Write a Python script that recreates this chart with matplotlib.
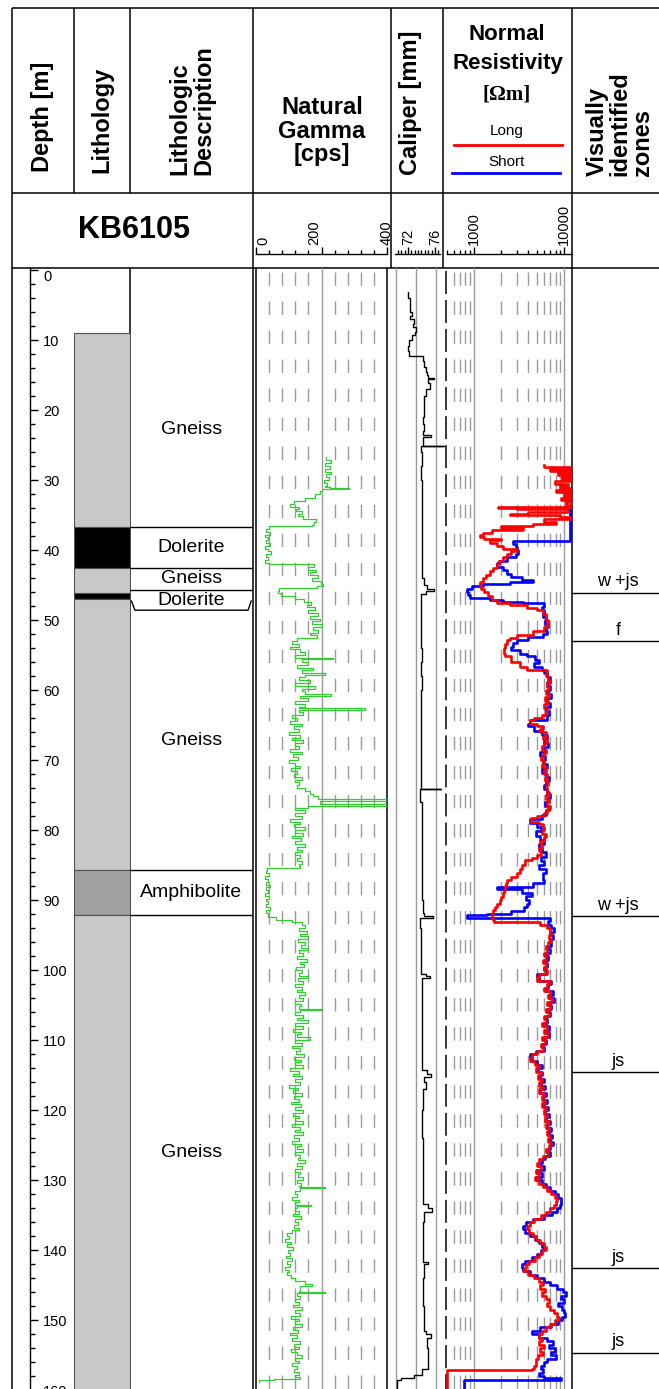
import numpy as np
import matplotlib.pyplot as plt
from matplotlib.ticker import MultipleLocator, FixedLocator, NullFormatter

plt.rcParams['font.family'] = ['Liberation Sans', 'DejaVu Sans']
plt.rcParams['lines.scale_dashes'] = False

# ---------------- data ----------------
well_name = "KB6105"

# lithology column (top, bottom in m)
litho_top = [9.0, 36.7, 42.5, 46.1, 47.0, 85.7, 92.1]
litho_bottom = [36.7, 42.5, 46.1, 47.0, 85.7, 92.1, 161.5]
litho_rock = ["Gneiss", "Dolerite", "Gneiss", "Dolerite", "Gneiss", "Amphibolite", "Gneiss"]
rock_color = {"Gneiss": "#c8c8c8", "Dolerite": "#000000", "Amphibolite": "#a0a0a0"}

# lithologic description boxes
desc_top = [9.0, 36.7, 42.5, 45.7, 48.6, 85.7, 92.1]
desc_bottom = [36.7, 42.5, 45.7, 48.6, 85.7, 92.1, 160.0]
desc_label = ["Gneiss", "Dolerite", "Gneiss", "Dolerite", "Gneiss", "Amphibolite", "Gneiss"]
desc_bracket = [False, False, False, True, False, False, False]

# visually identified zones (depth of the line under the label)
zone_depth = [46.1, 53.0, 92.3, 114.6, 142.6, 154.7]
zone_label = ["w +js", "f", "w +js", "js", "js", "js"]

depth_ticks = [0, 10, 20, 30, 40, 50, 60, 70, 80, 90, 100, 110, 120, 130, 140, 150, 160]
gamma_ticks = [0, 200, 400]
caliper_ticks = [72, 76]
res_ticks = [1000, 10000]

# natural gamma [cps]
gamma_depth = [26.7, 27.2, 27.6, 28.0, 28.4, 28.8, 29.2, 29.6, 30.0, 30.4, 30.8, 31.0, 31.2, 31.3,
               31.6, 32.0, 32.5, 33.0, 33.4, 33.8, 34.1, 34.4, 34.8, 35.2, 35.6, 36.0, 36.4, 36.6,
               37.0, 37.4, 37.8, 38.2, 38.6, 39.0, 39.4, 39.8, 40.2, 40.6, 41.0, 41.4, 41.8, 42.0,
               42.4, 42.8, 43.2, 43.6, 44.0, 44.4, 44.8, 45.2, 45.4, 45.8, 46.2, 46.6, 47.0, 47.4,
               47.8, 48.2, 48.6, 49.0, 49.4, 49.8, 50.2, 50.6, 51.0, 51.4, 51.8, 52.2, 52.6, 53.0,
               53.4, 53.8, 54.2, 54.6, 55.0, 55.4, 55.6, 56.0, 56.4, 56.8, 57.2, 57.6, 57.8, 58.2,
               58.6, 59.0, 59.4, 59.8, 60.2, 60.6, 60.8, 61.2, 61.6, 62.0, 62.4, 62.6, 62.8, 63.2,
               63.6, 64.0, 64.4, 64.8, 65.2, 65.6, 66.0, 66.4, 66.8, 67.2, 67.6, 68.0, 68.4, 68.8,
               69.2, 69.6, 70.0, 70.4, 70.8, 71.2, 71.6, 72.0, 72.4, 72.8, 73.2, 73.6, 74.0, 74.4,
               74.8, 75.2, 75.6, 75.8, 76.3, 76.5, 76.8, 77.2, 77.6, 78.0, 78.4, 78.8, 79.2, 79.6,
               80.0, 80.4, 80.8, 81.2, 81.6, 82.0, 82.4, 82.8, 83.2, 83.6, 84.0, 84.4, 84.8, 85.2,
               85.4, 85.8, 86.2, 86.6, 87.0, 87.4, 87.8, 88.2, 88.6, 89.0, 89.4, 89.8, 90.2, 90.6,
               91.0, 91.4, 91.8, 92.2, 92.4, 92.8, 93.2, 93.6, 94.0, 94.4, 94.8, 95.2, 95.6, 96.0,
               96.4, 96.8, 97.2, 97.6, 98.0, 98.4, 98.8, 99.2, 99.6, 100.0, 100.4, 100.8, 101.2,
               101.6, 102.0, 102.4, 102.8, 103.2, 103.6, 104.0, 104.4, 104.8, 105.2, 105.5, 105.7,
               106.0, 106.4, 106.8, 107.2, 107.6, 108.0, 108.4, 108.8, 109.2, 109.6, 110.0, 110.4,
               110.8, 111.2, 111.6, 112.0, 112.4, 112.8, 113.2, 113.6, 114.0, 114.4, 114.8, 115.2,
               115.6, 116.0, 116.4, 116.8, 117.2, 117.6, 118.0, 118.4, 118.8, 119.2, 119.6, 120.0,
               120.4, 120.8, 121.2, 121.6, 122.0, 122.4, 122.8, 123.2, 123.6, 124.0, 124.4, 124.8,
               125.2, 125.6, 126.0, 126.4, 126.8, 127.2, 127.6, 128.0, 128.4, 128.8, 129.2, 129.6,
               130.0, 130.4, 130.8, 131.0, 131.2, 131.6, 132.0, 132.4, 132.8, 133.2, 133.5, 133.7,
               134.0, 134.4, 134.8, 135.2, 135.6, 136.0, 136.4, 136.8, 137.2, 137.6, 138.0, 138.4,
               138.8, 139.2, 139.6, 140.0, 140.4, 140.8, 141.2, 141.6, 142.0, 142.4, 142.8, 143.2,
               143.6, 144.0, 144.4, 144.8, 145.2, 145.8, 146.0, 146.2, 146.6, 147.0, 147.4, 147.8,
               148.2, 148.6, 149.0, 149.4, 149.8, 150.2, 150.6, 151.0, 151.4, 151.8, 152.2, 152.6,
               153.0, 153.4, 153.8, 154.2, 154.6, 155.0, 155.4, 155.8, 156.2, 156.6, 157.0, 157.4,
               157.8, 158.2, 158.4, 158.6, 158.9]
gamma_cps = [215, 228, 210, 225, 212, 230, 214, 222, 208, 218, 212, 225, 285, 200,
             196, 180, 150, 115, 104, 130, 122, 140, 128, 145, 182, 176, 170, 40,
             32, 44, 28, 38, 30, 42, 27, 36, 45, 30, 38, 28, 40, 178,
             160, 182, 165, 190, 172, 198, 205, 185, 70, 66, 75, 120, 148, 168,
             155, 180, 160, 188, 165, 195, 170, 200, 175, 190, 165, 185, 125, 110,
             132, 105, 135, 150, 120, 235, 140, 160, 125, 175, 140, 210, 150, 130,
             165, 120, 180, 140, 150, 230, 135, 160, 120, 150, 130, 333, 130, 145,
             110, 125, 105, 140, 115, 130, 100, 135, 110, 145, 118, 130, 105, 140,
             112, 128, 100, 120, 135, 108, 125, 115, 140, 120, 132, 125, 150, 165,
             175, 190, 404, 195, 404, 160, 120, 150, 118, 140, 105, 135, 115, 150,
             120, 145, 110, 138, 120, 150, 125, 140, 118, 135, 125, 140, 130, 135,
             35, 30, 40, 28, 38, 30, 42, 32, 36, 28, 40, 30, 38, 32,
             42, 30, 36, 38, 60, 110, 140, 150, 130, 155, 135, 160, 128, 150,
             138, 158, 130, 145, 125, 155, 135, 148, 122, 140, 130, 160, 128,
             145, 118, 140, 125, 150, 130, 145, 120, 138, 130, 200, 135,
             118, 142, 125, 160, 120, 145, 112, 138, 125, 165, 118, 140,
             110, 135, 122, 148, 115, 138, 120, 145, 105, 130, 112, 140,
             118, 135, 100, 128, 112, 140, 115, 132, 108, 138, 120, 145,
             112, 130, 118, 142, 110, 135, 120, 145, 115, 130, 110, 138,
             125, 145, 118, 135, 128, 150, 125, 140, 120, 135, 128, 145,
             125, 138, 130, 210, 135, 118, 125, 110, 130, 120, 168, 125,
             118, 130, 112, 138, 120, 128, 115, 132, 110, 95, 100, 90,
             108, 95, 112, 98, 105, 92, 110, 96, 104, 90, 100, 95,
             108, 120, 150, 172, 135, 130, 210, 125, 135, 118, 130, 112,
             140, 120, 135, 108, 132, 118, 140, 112, 128, 105, 125, 110,
             135, 115, 130, 108, 125, 140, 118, 132, 110, 125, 115, 130,
             120, 135, 55, 10, 8]

# caliper [mm]
cal_depth = [3.2, 4.0, 5.2, 6.0, 6.5, 7.0, 7.7, 8.2, 8.8, 9.3, 10.0, 10.8, 11.5, 12.2, 12.3,
             13.0, 13.9, 14.5, 15.0, 15.4, 15.6, 16.2, 17.0, 18.0, 19.0, 20.0, 21.0, 22.0,
             23.0, 23.6, 23.8, 24.5, 25.1, 25.2, 26.0, 28.0, 30.0, 32.0, 34.0, 36.0, 38.0,
             40.0, 42.0, 44.0, 45.0, 45.5, 45.9, 46.3, 48.0, 50.0, 52.0, 54.0, 56.0, 58.0,
             60.0, 62.0, 64.0, 66.0, 68.0, 70.0, 72.0, 74.0, 74.1, 74.2, 76.0, 80.0, 84.0,
             88.0, 90.0, 91.8, 92.3, 92.5, 94.0, 96.0, 98.0, 100.5, 100.9, 101.2, 104.0,
             108.0, 112.0, 114.3, 114.9, 115.3, 116.0, 117.0, 120.0, 124.0, 128.0, 133.4,
             134.0, 134.5, 136.0, 140.0, 141.7, 142.0, 144.0, 148.0, 151.5, 152.0, 152.5,
             154.0, 156.5, 157.0, 157.8, 158.3, 158.6, 161.5]
cal_mm = [72.03, 72.30, 72.24, 72.58, 72.30, 72.85, 72.71, 73.12, 73.05, 72.58, 72.17, 72.03, 72.10,
          72.17, 74.22, 74.35, 74.63, 74.76, 75.04, 75.85, 74.90, 75.31, 74.63, 74.35, 74.42,
          74.35, 74.28, 74.35, 74.22, 75.45, 74.28, 74.22, 77.36, 73.94, 74.01, 73.94, 74.08,
          74.01, 74.08, 74.01, 74.15, 74.08, 74.15, 74.35, 74.76, 75.85, 74.63, 73.94, 73.87,
          73.94, 73.87, 74.01, 73.94, 74.01, 73.94, 73.87, 73.94, 73.87, 73.94, 73.87, 73.94,
          73.94, 76.95, 73.81, 74.08, 74.15, 74.08, 74.15, 74.22, 74.35, 75.72, 73.81, 73.87,
          73.94, 73.94, 74.63, 75.31, 74.08, 74.01, 74.08, 74.15, 74.76, 75.45, 74.35, 74.63,
          74.22, 74.15, 74.22, 74.22, 74.90, 75.58, 74.35, 74.28, 74.28, 74.90, 74.35, 74.28,
          74.35, 74.63, 75.45, 74.76, 75.04, 74.90, 74.08, 72.85, 70.94, 70.39, 70.12]

# normal resistivity, long spacing [Ohm m]
long_depth = [27.9, 28.1, 28.4, 28.7, 29.0, 29.3, 29.6, 29.9, 30.2, 30.5, 30.8, 31.1, 31.4, 31.7,
              32.0, 32.3, 32.6, 32.9, 33.2, 33.5, 33.8, 34.0, 34.2, 34.5, 34.8, 35.0, 35.3, 35.6,
              36.0, 36.3, 36.5, 36.8, 37.2, 37.6, 37.8, 38.1, 38.4, 38.6, 39.0, 39.4, 39.8, 40.1,
              40.5, 41.0, 41.5, 42.0, 42.5, 43.0, 43.5, 44.0, 44.5, 45.0, 45.5, 46.0, 46.5, 47.1,
              47.5, 47.9, 48.3, 48.6, 49.2, 50.0, 50.5, 51.0, 51.5, 52.1, 52.5, 52.9, 53.4, 54.0,
              54.8, 55.2, 56.0, 56.7, 57.1, 57.6, 58.0, 58.5, 59.0, 59.5, 60.0, 60.5, 61.0, 61.5,
              62.0, 62.5, 63.0, 63.5, 64.0, 64.3, 64.8, 65.2, 65.6, 66.0, 66.5, 67.0, 67.5, 68.0,
              68.5, 69.0, 69.5, 70.0, 70.5, 71.0, 71.5, 72.0, 72.5, 73.0, 73.5, 74.0, 74.5, 75.0,
              75.5, 76.0, 76.5, 77.0, 77.6, 78.0, 78.3, 78.8, 79.2, 79.6, 80.0, 80.5, 81.0, 81.5,
              82.0, 82.5, 83.0, 83.5, 84.0, 84.3, 85.0, 85.6, 86.2, 86.7, 87.1, 87.6, 88.0, 88.5,
              89.0, 89.5, 90.0, 90.5, 91.0, 91.4, 92.0, 92.5, 92.9, 93.1, 93.5, 94.0, 94.5, 95.0,
              95.5, 96.0, 96.5, 97.0, 97.5, 98.0, 98.5, 99.0, 99.5, 100.0, 100.5, 101.0, 101.5,
              102.0, 102.5, 103.0, 103.5, 104.0, 104.5, 105.0, 105.5, 106.0, 106.5, 107.0, 107.5,
              108.0, 108.5, 109.0, 109.5, 110.0, 110.5, 111.0, 111.5, 112.0, 112.5, 113.0, 113.5,
              114.0, 114.5, 115.0, 115.5, 116.0, 116.5, 117.0, 117.5, 118.0, 118.5, 119.0, 119.5,
              120.0, 120.5, 121.0, 121.5, 122.0, 122.5, 123.0, 123.5, 124.0, 124.5, 125.0, 125.5,
              126.0, 126.5, 127.0, 127.5, 128.0, 128.5, 129.0, 129.5, 130.0, 130.5, 131.0, 131.5,
              132.0, 132.5, 133.0, 133.5, 134.0, 134.5, 135.0, 135.5, 136.0, 136.5, 137.0, 137.5,
              138.0, 138.5, 139.0, 139.5, 140.0, 140.5, 141.0, 141.5, 142.0, 142.5, 143.0, 143.5,
              144.0, 144.5, 145.0, 145.5, 146.0, 146.5, 147.0, 147.5, 148.0, 148.5, 149.0, 149.5,
              150.0, 150.5, 151.0, 151.5, 152.0, 152.5, 153.0, 153.5, 154.0, 154.5, 155.0, 155.5,
              156.0, 156.5, 157.0, 157.1, 161.5]
long_res = [6000, 11500, 7000, 11800, 8500, 11500, 9500, 12000, 7800, 11000, 9000, 11800, 8000, 11500,
            10000, 11800, 9200, 11500, 10500, 11800, 1850, 3000, 11000, 4000, 2500, 9000, 11800, 6000,
            8000, 4500, 2000, 3500, 1600, 1250, 1170, 1300, 2000, 1500, 1800, 2100, 3000, 2600,
            2300, 2100, 1900, 1800, 1630, 1500, 1350, 1250, 1170, 1200, 1300, 1430, 1600, 1800,
            2500, 3900, 5000, 5850, 6300, 6600, 6500, 5900, 4500, 3000, 2500, 2300, 2200, 2150,
            2200, 2600, 3200, 3900, 6500, 6200, 6600, 6900, 6400, 6800, 6300, 6700, 6100, 6600,
            6000, 6500, 6200, 5600, 4600, 4200, 5000, 5800, 5400, 6200, 5800, 6500, 6000, 5600,
            6200, 5800, 5500, 6000, 5700, 6300, 5900, 6500, 6100, 6600, 6200, 6400, 6700, 6300,
            6800, 6400, 6900, 6500, 6000, 5000, 4300, 5300, 5800, 6000, 5600, 6200, 5900, 5400,
            5700, 5200, 5500, 5000, 4400, 3700, 3400, 3200, 3000, 2600, 2300, 2250, 2200, 2150,
            2100, 2000, 1950, 1800, 1700, 1630, 1600, 1620, 1650, 5400, 6500, 7000, 7200, 6800,
            7100, 6600, 6200, 6500, 5900, 6300, 5800, 6200, 5900, 6400, 5300, 5000, 6900,
            6400, 6000, 7000, 6600, 7300, 6500, 6900, 6200, 6700, 5900, 6300, 5700,
            6400, 6000, 6600, 5600, 6100, 5500, 5800, 5000, 4400, 4200, 4700, 5300,
            4900, 5500, 5100, 5700, 5300, 5800, 5200, 6000, 5600, 6100, 5700, 6300,
            5900, 6500, 6100, 6700, 6300, 6800, 6400, 7000, 6600, 7200, 6700, 6200,
            6600, 5800, 5300, 5000, 5500, 4800, 5200, 4700, 5300, 5800, 6500, 7200,
            7800, 8300, 8000, 7600, 7000, 6300, 5500, 4600, 4200, 3900, 4100, 4500,
            4900, 5400, 5900, 6200, 5700, 5200, 4700, 4100, 3800, 3600, 4000, 4600,
            5200, 5800, 5400, 6100, 5600, 6300, 6800, 6400, 7000, 7600, 8300, 8800,
            7900, 7000, 6200, 5600, 5200, 5700, 5300, 5900, 5400, 5800, 5100, 4800,
            4900, 4600, 4400, 500, 500]

# normal resistivity, short spacing [Ohm m]
short_depth = [33.8, 38.6, 38.7, 39.2, 39.6, 40.0, 40.5, 41.0, 41.5, 41.9, 42.4, 42.9, 43.4, 43.8,
               44.3, 44.5, 44.8, 45.2, 45.6, 46.0, 46.4, 46.8, 47.1, 47.4, 47.6, 48.1, 48.6, 49.0,
               49.5, 50.0, 50.5, 51.0, 51.5, 52.0, 52.4, 52.9, 53.3, 53.8, 54.3, 54.8, 55.2, 55.7,
               56.2, 56.7, 57.2, 57.6, 58.2, 58.8, 59.4, 60.0, 60.6, 61.2, 61.8, 62.4, 63.0, 63.6,
               64.3, 64.8, 65.2, 65.8, 66.4, 67.0, 67.6, 68.2, 68.8, 69.4, 70.0, 70.6, 71.2, 71.8,
               72.4, 73.0, 73.6, 74.2, 74.8, 75.4, 76.0, 76.6, 77.2, 77.8, 78.4, 79.0, 79.6, 80.2,
               80.8, 81.4, 82.0, 82.6, 83.2, 83.8, 84.4, 85.0, 85.6, 86.2, 87.1, 87.6, 88.1, 88.4,
               89.0, 89.4, 90.0, 90.5, 91.0, 91.5, 92.0, 92.2, 92.5, 92.6, 93.0, 93.5, 94.0, 94.5,
               95.0, 95.5, 96.0, 96.5, 97.0, 97.5, 98.0, 98.5, 99.0, 99.5, 100.0, 100.5, 101.0,
               101.5, 102.0, 102.5, 103.0, 103.5, 104.0, 104.5, 105.0, 105.5, 106.0, 106.5, 107.0,
               107.5, 108.0, 108.5, 109.0, 109.5, 110.0, 110.5, 111.0, 111.5, 112.0, 112.5, 113.0,
               113.5, 114.0, 114.5, 115.0, 115.5, 116.0, 116.5, 117.0, 117.5, 118.0, 118.5, 119.0,
               119.5, 120.0, 120.5, 121.0, 121.5, 122.0, 122.5, 123.0, 123.5, 124.0, 124.5, 125.0,
               125.5, 126.0, 126.5, 127.0, 127.5, 128.0, 128.5, 129.0, 129.5, 130.0, 130.5, 131.0,
               131.5, 132.0, 132.5, 133.0, 133.5, 134.0, 134.5, 135.0, 135.5, 136.0, 136.5, 137.0,
               137.5, 138.0, 138.5, 139.0, 139.5, 140.0, 140.5, 141.0, 141.5, 142.0, 142.5, 143.0,
               143.5, 144.0, 144.5, 145.0, 145.5, 146.0, 146.5, 147.0, 147.5, 148.0, 148.5, 149.0,
               149.5, 150.0, 150.5, 151.0, 151.5, 152.0, 152.5, 153.0, 153.5, 154.0, 154.5, 155.0,
               155.5, 156.0, 156.5, 157.0, 157.5, 158.0, 158.3, 158.5, 161.5]
short_res = [11500, 11500, 2700, 2900, 3000, 3100, 2900, 2300, 1900, 1800, 2100, 2300, 2600, 3400,
             4500, 2500, 1260, 950, 840, 860, 900, 1500, 2100, 3500, 5900, 5600, 6000, 5800,
             6300, 6100, 6600, 6200, 6500, 5800, 4000, 3000, 2700, 2600, 3200, 3900, 4700, 5300,
             4600, 5600, 6000, 6500, 6900, 6400, 7000, 6600, 7100, 6500, 6900, 6300, 6800, 6400,
             4200, 4000, 4600, 5600, 6400, 5900, 6600, 6000, 5400, 6100, 5800, 6500, 5700, 6300,
             6800, 6300, 5900, 6500, 7000, 6600, 6100, 6700, 6300, 5600, 4200, 5000, 5500, 4800,
             5400, 5900, 5300, 5700, 6200, 5500, 6000, 5300, 6200, 5800, 6000, 4500, 1800, 3400,
             4400, 3800, 4100, 3900, 3600, 2600, 1400, 840, 850, 7000, 6600, 7200, 7600, 7000,
             7400, 6900, 7100, 6500, 6900, 6200, 6600, 6100, 6500, 6000, 6300, 5000, 5200,
             7100, 6600, 6200, 7400, 6800, 7600, 6700, 7100, 6400, 6900, 6200, 6500,
             5900, 6700, 6200, 6800, 5900, 6300, 5700, 6000, 4800, 4200, 4400, 5000,
             5600, 5100, 5700, 5400, 6000, 5500, 6100, 5400, 6300, 5800, 6400, 6000,
             6600, 6100, 6800, 6300, 7000, 6500, 7100, 6700, 7300, 6900, 7500, 7000,
             6500, 7000, 6100, 5600, 5200, 5900, 5000, 5600, 4900, 5600, 6200, 7000,
             7800, 8500, 9100, 9300, 9000, 8200, 7300, 6000, 4500, 3800, 3500, 3700,
             4200, 4700, 5200, 5700, 6000, 5500, 5000, 4400, 3700, 3400, 3500, 4200,
             5000, 6000, 7000, 8200, 9600, 10300, 9300, 9800, 8600, 9400, 10000, 10200,
             9500, 8400, 7200, 5400, 4400, 5200, 6500, 7400, 6800, 7900, 7200, 8000,
             6500, 6000, 5500, 5800, 5200, 6000, 9300, 770, 770]

# ---------------- layout (pixels of the 659 x 1389 sheet) ----------------
W, H = 659, 1389
fig = plt.figure(figsize=(W / 100, H / 100), dpi=100)

TOP, BOT = 268, 1400        # data area, runs past the lower edge
Y0, PX_M = 270, 7.0         # y of depth 0 and pixels per metre
dlim = ((BOT - Y0) / PX_M, (TOP - Y0) / PX_M)
dash_start = (271.7 - Y0) / PX_M
CAL_LIM = (68.9, 77.63)


def px_axes(x0, x1, y0, y1):
    ax = fig.add_axes([x0 / W, 1 - y1 / H, (x1 - x0) / W, (y1 - y0) / H])
    ax.patch.set_visible(False)
    return ax


def track(x0, x1):
    ax = px_axes(x0, x1, TOP, BOT)
    ax.set_ylim(*dlim)
    for s in ax.spines.values():
        s.set_visible(False)
    ax.set_xticks([])
    ax.set_yticks([])
    return ax


GRAY = "#9a9a9a"
DASH = (9.6, 11.3)

# frame with header boxes
frame = px_axes(0, W, 0, H)
frame.set_xlim(0, W)
frame.set_ylim(H, 0)
frame.axis("off")
k = dict(color="black", lw=1.1, solid_capstyle="butt")
for y in (8, 193, 268):
    frame.plot([12, W], [y, y], **k)
frame.plot([12, 12], [8, H], **k)
for x in (74, 130):
    frame.plot([x, x], [8, 193], **k)
for x in (391, 443):
    frame.plot([x, x], [8, 268], **k)
for x in (253, 571.5):
    frame.plot([x, x], [8, H], **k)
for x in (130, 256, 387):
    frame.plot([x, x], [268, H], **k)
frame.plot([446, 446], [271, H], color="black", lw=1.1, dashes=(16.5, 4.4))

# header titles
hb = dict(fontsize=17, fontweight="bold", ha="center", va="center")
frame.text(43, 117, "Depth [m]", rotation=90, **hb)
frame.text(102, 120, "Lithology", rotation=90, **hb)
frame.text(192, 175, "Lithologic\nDescription", rotation=90, multialignment="left",
           fontsize=17, fontweight="bold", ha="center", va="bottom", linespacing=1.05)
frame.text(322, 131, "Natural\nGamma\n[cps]", linespacing=1.05, **hb)
frame.text(411, 175, "Caliper [mm]", rotation=90, fontsize=17, fontweight="bold",
           ha="center", va="bottom")
frame.text(507, 35, "Normal", fontsize=16, fontweight="bold", ha="center", va="center")
frame.text(508, 63, "Resistivity", fontsize=16, fontweight="bold", ha="center", va="center")
frame.text(507, 95, "[Ωm]", family=["Liberation Serif", "DejaVu Serif"], fontsize=15,
           fontweight="bold", ha="center", va="center")
frame.text(507, 131, "Long", fontsize=11, ha="center", va="center")
frame.plot([454, 562], [145, 145], color="red", lw=2)
frame.text(507, 162, "Short", fontsize=11, ha="center", va="center")
frame.plot([452, 560], [173, 173], color="blue", lw=2)
frame.text(620, 176, "Visually\nidentified\nzones", rotation=90, multialignment="left",
           fontsize=17, fontweight="bold", ha="center", va="bottom", linespacing=1.0)
frame.text(134, 230, well_name, fontsize=22, fontweight="bold", ha="center", va="center")

# depth scale
ax_d = track(30, 74)
ax_d.spines["left"].set_visible(True)
ax_d.spines["left"].set_linewidth(1.0)
ax_d.yaxis.set_major_locator(FixedLocator(depth_ticks))
ax_d.yaxis.set_minor_locator(MultipleLocator(2))
ax_d.tick_params(axis="y", which="major", direction="in", length=5.8, width=1.0,
                 pad=-9.5, labelsize=10.5)
ax_d.tick_params(axis="y", which="minor", direction="in", length=3.6, width=1.0)
for lab in ax_d.get_yticklabels():
    lab.set_horizontalalignment("left")
ax_d.get_yticklabels()[0].set_verticalalignment("top")

# lithology column
ax_l = track(74, 130)
ax_l.set_xlim(0, 1)
for top, bot, rock in zip(litho_top, litho_bottom, litho_rock):
    ax_l.fill_betweenx([top, bot], 0, 1, facecolor=rock_color[rock],
                       edgecolor="#505050", lw=0.8)

# lithologic description
ax_t = track(130, 253)
ax_t.set_xlim(0, 1)
for i, (top, bot, name) in enumerate(zip(desc_top, desc_bottom, desc_label)):
    ax_t.text(0.5, (top + bot) / 2, name, fontsize=14, ha="center", va="center")
    if i == 0:
        continue
    if desc_bracket[i - 1]:
        ax_t.plot([0.012, 0.04, 0.96, 0.985], [top - 1.3, top, top, top - 1.3], color="black", lw=1.0)
    else:
        ax_t.axhline(top, color="black", lw=1.0)

# natural gamma
ax_g = track(256, 387)
ax_g.set_xlim(0, 400)
for v in [40, 80, 120, 160, 240, 280, 320, 360]:
    ax_g.plot([v, v], [dash_start, dlim[0]], color=GRAY, lw=1.0, dashes=DASH)
ax_g.axvline(200, color=GRAY, lw=1.0)
ax_g.plot(gamma_cps, gamma_depth, color="#33cc33", lw=0.9, drawstyle="steps-pre")

# caliper
ax_c = track(387, 446)
ax_c.set_xlim(*CAL_LIM)
for f in (9 / 59, 29 / 59, 49 / 59):
    ax_c.axvline(CAL_LIM[0] + f * (CAL_LIM[1] - CAL_LIM[0]), color=GRAY, lw=1.0)
ax_c.plot(cal_mm, cal_depth, color="black", lw=1.0, drawstyle="steps-pre")

# resistivity
ax_r = track(446, 571.5)
ax_r.set_xscale("log")
ax_r.set_xlim(490, 12000)
ax_r.set_xticks([])
ax_r.minorticks_off()
for v in [600, 700, 800, 900, 2000, 3000, 4000, 5000, 6000, 7000, 8000, 9000]:
    ax_r.plot([v, v], [dash_start, dlim[0]], color=GRAY, lw=1.0, dashes=DASH)
for v in res_ticks:
    ax_r.axvline(v, color=GRAY, lw=1.0)
ax_r.plot(short_res, short_depth, color="blue", lw=1.9, drawstyle="steps-pre", zorder=3)
ax_r.plot(long_res, long_depth, color="red", lw=1.9, drawstyle="steps-pre", zorder=4)

# zones
ax_z = track(571.5, 665)
ax_z.set_xlim(0, 1)
for dep, lab in zip(zone_depth, zone_label):
    ax_z.plot([0.0, 1.0], [dep, dep], color="black", lw=1.0)
    ax_z.text(0.5, dep - 0.35, lab, fontsize=13, ha="center", va="bottom")


# header scales
def scale_axes(x0, x1, xlim, log=False):
    ax = px_axes(x0, x1, 200, 254)
    if log:
        ax.set_xscale("log")
    ax.set_xlim(*xlim)
    ax.set_yticks([])
    for s in ("top", "left", "right"):
        ax.spines[s].set_visible(False)
    ax.spines["bottom"].set_linewidth(1.0)
    ax.tick_params(axis="x", which="major", direction="in", length=5, width=1.0, labelbottom=False)
    ax.tick_params(axis="x", which="minor", direction="in", length=3, width=1.0, labelbottom=False)
    return ax


def scale_label(ax, v, ha="center"):
    ax.text(v, 0.17, str(v), transform=ax.get_xaxis_transform(), rotation=90,
            fontsize=10.5, ha=ha, va="bottom")


sg = scale_axes(256, 387, (0, 400))
sg.xaxis.set_major_locator(FixedLocator(gamma_ticks))
sg.xaxis.set_minor_locator(MultipleLocator(40))
for v, ha in zip(gamma_ticks, ["left", "right", "center"]):
    scale_label(sg, v, ha)

sc = scale_axes(387, 446, CAL_LIM)
sc.spines["bottom"].set_bounds(70.1, 76.7)
sc.xaxis.set_major_locator(FixedLocator(caliper_ticks))
sc.xaxis.set_minor_locator(FixedLocator(np.arange(70.5, 76.8, 0.5)))
for v in caliper_ticks:
    scale_label(sc, v)

sr = scale_axes(446, 571.5, (490, 12000), log=True)
sr.spines["bottom"].set_bounds(500, 12000)
sr.xaxis.set_major_locator(FixedLocator(res_ticks))
sr.xaxis.set_minor_locator(FixedLocator([500, 600, 700, 800, 900, 2000, 3000, 4000,
                                         5000, 6000, 7000, 8000, 9000]))
sr.xaxis.set_minor_formatter(NullFormatter())
for v in res_ticks:
    scale_label(sr, v)

fig.savefig("out.png", dpi=100)
